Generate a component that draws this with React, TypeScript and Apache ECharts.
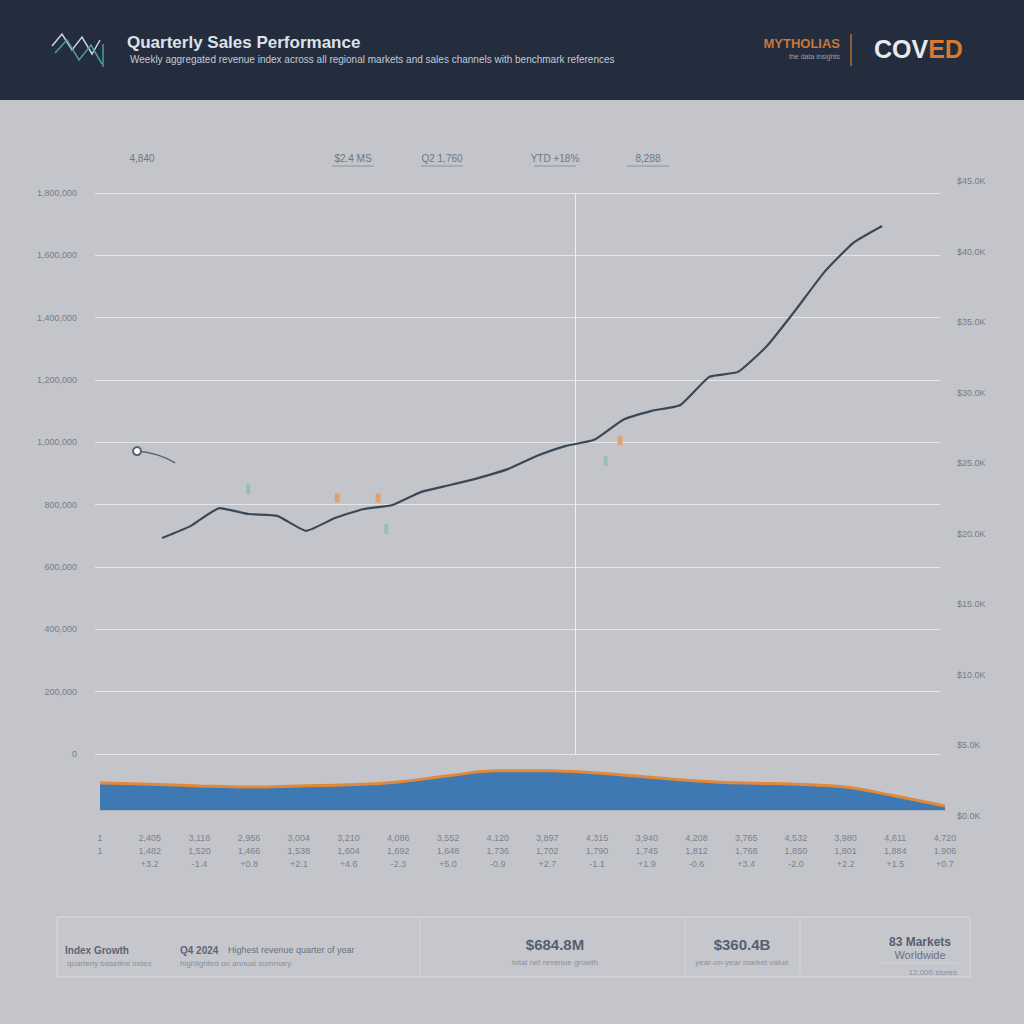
import React, { useEffect, useRef } from "react";
import * as echarts from "echarts";

// ---- data ----
const lineValues = [693, 732, 789, 770, 764, 716, 757, 786, 799, 841, 863, 886, 914, 956, 988, 1008, 1072, 1101, 1120, 1210, 1226, 1309, 1425, 1547, 1640, 1694];
const priorValues = [[-0.87, 972], [-0.14, 959], [0.45, 934]];
const orangeMarks = [[6.08, 821], [7.5, 821], [15.9, 1005]];
const tealMarks = [[2.99, 850], [7.78, 722], [15.4, 940]];
const markerX = 14.34;

const areaValues = [48, 46, 43, 41, 43, 45, 50, 61, 70, 70, 66, 59, 52, 48, 46, 41, 25, 7];
const row1 = ["1", "2,405", "3,118", "2,956", "3,004", "3,210", "4,086", "3,552", "4,120", "3,897", "4,315", "3,940", "4,208", "3,765", "4,532", "3,980", "4,611", "4,720"];
const row2 = ["1", "1,482", "1,520", "1,466", "1,538", "1,604", "1,692", "1,648", "1,736", "1,702", "1,790", "1,745", "1,812", "1,768", "1,850", "1,801", "1,884", "1,906"];
const row3 = ["", "+3.2", "-1.4", "+0.8", "+2.1", "+4.6", "-2.3", "+5.0", "-0.9", "+2.7", "-1.1", "+1.9", "-0.6", "+3.4", "-2.0", "+2.2", "+1.5", "+0.7"];

const topNotes = ["4,840", "$2.4 MS", "Q2 1,760", "YTD +18%", "8,288"];
const topNoteX = [142, 353, 442, 555, 648];

const title = "Quarterly Sales Performance";
const subtitle = "Weekly aggregated revenue index across all regional markets and sales channels with benchmark references";

export default function App() {
  const ref = useRef<HTMLDivElement>(null);
  useEffect(() => {
    if (!ref.current) return;
    const chart = echarts.init(ref.current, null, { renderer: "svg" });
    const font = "Liberation Sans";
    const graphic: any[] = [
      { type: "rect", shape: { x: 0, y: 0, width: 1024, height: 100 }, style: { fill: "#232d3e" }, z: 10 },
      { type: "polyline", shape: { points: [[52, 46], [62, 34], [72, 50], [82, 37], [92, 54], [100, 40]] }, style: { stroke: "#c9d3dc", lineWidth: 1.5, fill: null }, z: 11 },
      { type: "polyline", shape: { points: [[55, 53], [67, 40], [79, 60], [91, 45], [102, 64]] }, style: { stroke: "#4e9da0", lineWidth: 1.5, fill: null }, z: 11 },
      { type: "line", shape: { x1: 103, y1: 44, x2: 103, y2: 67 }, style: { stroke: "#4e9da0", lineWidth: 1.5 }, z: 11 },
      { type: "text", x: 127, y: 42, style: { text: title, fill: "#dde2ea", font: `bold 17px '${font}'`, textVerticalAlign: "middle" }, z: 11 },
      { type: "text", x: 130, y: 59, style: { text: subtitle, fill: "#c5cbd4", font: `10px '${font}'`, textVerticalAlign: "middle" }, z: 11 },
      { type: "text", x: 840, y: 43, style: { text: "MYTHOLIAS", fill: "#c8773a", font: `bold 13px '${font}'`, textAlign: "right", textVerticalAlign: "middle" }, z: 11 },
      { type: "text", x: 840, y: 56, style: { text: "the data insights", fill: "#9aa1ab", font: `7px '${font}'`, textAlign: "right", textVerticalAlign: "middle" }, z: 11 },
      { type: "line", shape: { x1: 851, y1: 34, x2: 851, y2: 66 }, style: { stroke: "#b86d35", lineWidth: 1.5 }, z: 11 },
      { type: "text", x: 874, y: 49, style: { text: "{a|COV}{b|ED}", rich: { a: { fill: "#e6e9ee", font: `bold 25px '${font}'` }, b: { fill: "#d9782f", font: `bold 25px '${font}'` } }, textVerticalAlign: "middle" }, z: 11 },
    ];
    topNotes.forEach((t, i) => {
      graphic.push({ type: "text", x: topNoteX[i], y: 158, style: { text: t, fill: "#6f7682", font: `10px '${font}'`, textAlign: "center", textVerticalAlign: "middle" } });
      if (i > 0) graphic.push({ type: "line", shape: { x1: topNoteX[i] - 21, y1: 166, x2: topNoteX[i] + 21, y2: 166 }, style: { stroke: "#8a93a3", lineWidth: 1 } });
    });
    // bottom panel
    graphic.push(
      { type: "rect", shape: { x: 57, y: 917, width: 913, height: 60 }, style: { fill: "rgba(255,255,255,0.04)", stroke: "#d9dbdf", lineWidth: 1 } },
      { type: "line", shape: { x1: 420, y1: 919, x2: 420, y2: 975 }, style: { stroke: "#d3d5d9", lineWidth: 1 } },
      { type: "line", shape: { x1: 685, y1: 919, x2: 685, y2: 975 }, style: { stroke: "#d3d5d9", lineWidth: 1 } },
      { type: "line", shape: { x1: 800, y1: 919, x2: 800, y2: 975 }, style: { stroke: "#d3d5d9", lineWidth: 1 } },
      { type: "line", shape: { x1: 880, y1: 963, x2: 958, y2: 963 }, style: { stroke: "#d3d5d9", lineWidth: 1 } },
      { type: "text", x: 65, y: 950, style: { text: "Index Growth", fill: "#5d6573", font: `bold 10px '${font}'`, textVerticalAlign: "middle" } },
      { type: "text", x: 67, y: 963, style: { text: "quarterly baseline index", fill: "#8a909a", font: `8px '${font}'`, textVerticalAlign: "middle" } },
      { type: "text", x: 180, y: 950, style: { text: "Q4 2024", fill: "#5d6573", font: `bold 10px '${font}'`, textVerticalAlign: "middle" } },
      { type: "text", x: 228, y: 950, style: { text: "Highest revenue quarter of year", fill: "#6a717c", font: `9px '${font}'`, textVerticalAlign: "middle" } },
      { type: "text", x: 180, y: 963, style: { text: "highlighted on annual summary", fill: "#8a909a", font: `8px '${font}'`, textVerticalAlign: "middle" } },
      { type: "text", x: 555, y: 944, style: { text: "$684.8M", fill: "#566072", font: `bold 15px '${font}'`, textAlign: "center", textVerticalAlign: "middle" } },
      { type: "text", x: 555, y: 962, style: { text: "total net revenue growth", fill: "#8a909a", font: `8px '${font}'`, textAlign: "center", textVerticalAlign: "middle" } },
      { type: "text", x: 742, y: 944, style: { text: "$360.4B", fill: "#566072", font: `bold 15px '${font}'`, textAlign: "center", textVerticalAlign: "middle" } },
      { type: "text", x: 742, y: 962, style: { text: "year-on-year market value", fill: "#8a909a", font: `8px '${font}'`, textAlign: "center", textVerticalAlign: "middle" } },
      { type: "text", x: 920, y: 942, style: { text: "83 Markets", fill: "#566072", font: `bold 12px '${font}'`, textAlign: "center", textVerticalAlign: "middle" } },
      { type: "text", x: 920, y: 955, style: { text: "Worldwide", fill: "#6a717c", font: `11px '${font}'`, textAlign: "center", textVerticalAlign: "middle" } },
      { type: "text", x: 957, y: 972, style: { text: "12,000 stores", fill: "#8a909a", font: `8px '${font}'`, textAlign: "right", textVerticalAlign: "middle" } },
    );

    const option: any = {
      animation: false,
      backgroundColor: "#c3c5cb",
      textStyle: { fontFamily: font },
      graphic,
      grid: [
        { left: 95, right: 84, top: 193, height: 561 },
        { left: 100, right: 79, top: 754, height: 56 },
        { left: 95, right: 79, top: 181, height: 635 },
      ],
      xAxis: [
        { gridIndex: 0, type: "value", min: -2.33, max: 27.01, show: false },
        {
          gridIndex: 1, type: "category", boundaryGap: false, data: row1, offset: 15,
          axisLine: { show: true, lineStyle: { color: "#a7abb2", width: 1.5 } },
          axisTick: { show: false },
          axisLabel: { interval: 0, fontSize: 9, color: "#7c828c", lineHeight: 13, margin: 6,
            formatter: (_v: string, i: number) => `${row1[i]}\n${row2[i]}\n${row3[i]}` },
        },
        { gridIndex: 2, type: "value", min: 0, max: 1, show: false },
      ],
      yAxis: [
        {
          gridIndex: 0, type: "value", min: 0, max: 1800, interval: 200,
          axisLine: { show: false }, axisTick: { show: false },
          splitLine: { show: true, lineStyle: { color: "#e4e6ea", width: 1 } },
          axisLabel: { fontSize: 9, color: "#767c86", margin: 18, formatter: (v: number) => (v * 1000).toLocaleString("en-US") },
        },
        { gridIndex: 1, type: "value", min: 0, max: 100, show: false },
        {
          gridIndex: 2, type: "value", position: "right", min: 0, max: 45, interval: 5,
          axisLine: { show: false }, axisTick: { show: false }, splitLine: { show: false },
          axisLabel: { fontSize: 9, color: "#767c86", margin: 12, formatter: (v: number) => `$${v.toFixed(1)}K` },
        },
      ],
      series: [
        {
          name: "Revenue", type: "line", xAxisIndex: 0, yAxisIndex: 0, smooth: 0.15, showSymbol: false,
          data: lineValues.map((v, i) => [i, v]),
          lineStyle: { color: "#3b4858", width: 2.2 },
          markLine: {
            silent: true, symbol: "none", label: { show: false },
            lineStyle: { color: "#eef0f3", width: 1, type: "solid" },
            data: [{ xAxis: markerX }],
          },
          z: 5,
        },
        {
          name: "Prior", type: "line", xAxisIndex: 0, yAxisIndex: 0, smooth: true,
          data: priorValues, symbol: "emptyCircle", showAllSymbol: true,
          symbolSize: (_v: any, p: any) => (p.dataIndex === 0 ? 8 : 0),
          lineStyle: { color: "#5a6573", width: 1.5 }, itemStyle: { color: "#5a6573", borderColor: "#5a6573" },
        },
        {
          name: "Orange marks", type: "scatter", xAxisIndex: 0, yAxisIndex: 0, data: orangeMarks,
          symbol: "rect", symbolSize: [5, 9], itemStyle: { color: "#e29a60", opacity: 0.85 },
        },
        {
          name: "Teal marks", type: "scatter", xAxisIndex: 0, yAxisIndex: 0, data: tealMarks,
          symbol: "rect", symbolSize: [4, 10], itemStyle: { color: "#8fbcb3", opacity: 0.8 },
        },
        {
          name: "Volume", type: "line", xAxisIndex: 1, yAxisIndex: 1, smooth: 0.4, symbol: "none",
          data: areaValues,
          lineStyle: { color: "#e0893a", width: 3 },
          areaStyle: { color: "#3e79b3", opacity: 1 },
        },
      ],
    };
    chart.setOption(option);
    return () => chart.dispose();
  }, []);
  return <div ref={ref} style={{ position: "fixed", left: 0, top: 0, width: 1024, height: 1024 }} />;
}
